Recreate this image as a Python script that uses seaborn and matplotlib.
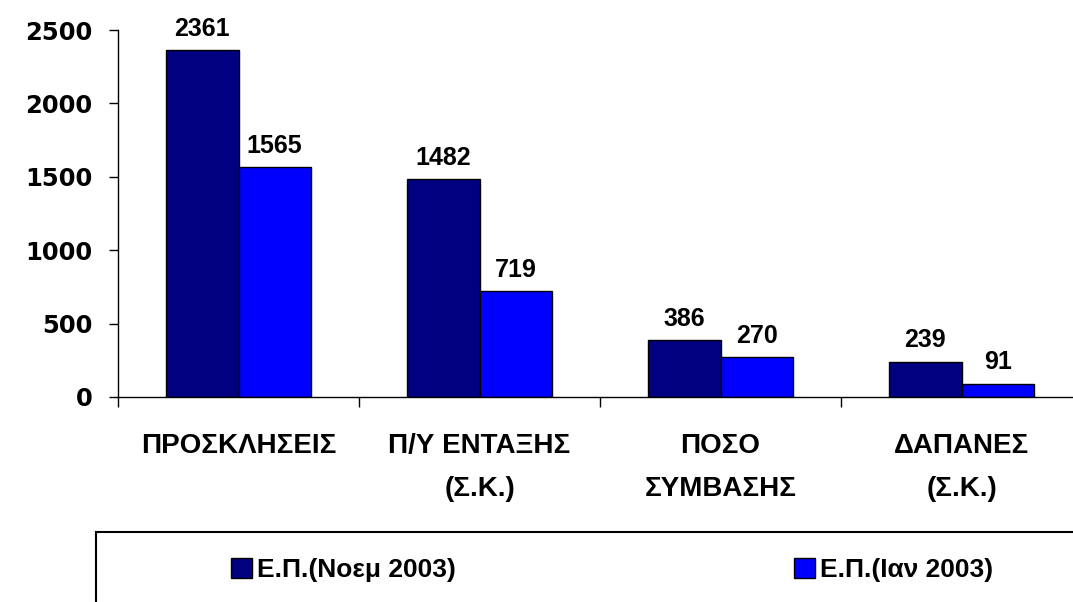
import matplotlib
matplotlib.use("Agg")
import matplotlib.pyplot as plt
from matplotlib.patches import Rectangle
import seaborn as sns
import pandas as pd

# data
categories = ["ΠΡΟΣΚΛΗΣΕΙΣ", "Π/Υ ΕΝΤΑΞΗΣ\n(Σ.Κ.)", "ΠΟΣΟ\nΣΥΜΒΑΣΗΣ", "ΔΑΠΑΝΕΣ\n(Σ.Κ.)"]
series_names = ["Ε.Π.(Νοεμ 2003)", "Ε.Π.(Ιαν 2003)"]
nov_values = [2361, 1482, 386, 239]
jan_values = [1565, 719, 270, 91]
series_colors = ["#000080", "#0000FF"]

df = pd.DataFrame({
    "category": categories * 2,
    "value": nov_values + jan_values,
    "series": [series_names[0]] * len(categories) + [series_names[1]] * len(categories),
})

sns.set_style("white", {"text.color": "black", "xtick.color": "black",
                        "ytick.color": "black", "axes.edgecolor": "black"})
plt.rcParams["font.family"] = ["Liberation Sans", "DejaVu Sans"]

W, H = 1073, 602
fig = plt.figure(figsize=(W / 100, H / 100), dpi=100)
ax = fig.add_axes([118 / W, 1 - 397 / H, 964 / W, 367 / H])

sns.barplot(data=df, x="category", y="value", hue="series",
            palette=dict(zip(series_names, series_colors)), saturation=1,
            width=0.6, edgecolor="black", linewidth=1, errorbar=None, ax=ax)

handles, labels = ax.get_legend_handles_labels()
ax.get_legend().remove()

for cont in ax.containers:
    ax.bar_label(cont, padding=7, fontsize=18, fontweight="bold", color="black")

ax.set_xlim(-0.5, len(categories) - 0.5)
ax.set_ylim(0, 2500)
ax.set_yticks(range(0, 2501, 500))
ax.set_xlabel("")
ax.set_ylabel("")

for s in ["top", "right"]:
    ax.spines[s].set_visible(False)
for s in ["left", "bottom"]:
    ax.spines[s].set_color("black")
    ax.spines[s].set_linewidth(1)

# category labels centred, tick marks on the boundaries
ax.set_xticks(range(len(categories)))
ax.set_xticklabels(categories, fontsize=20, fontweight="bold", linespacing=1.85,
                   color="black")
ax.set_xticks([i - 0.5 for i in range(len(categories) + 1)], minor=True)
ax.tick_params(axis="x", which="major", bottom=True, length=0, pad=26)
ax.tick_params(axis="x", which="minor", bottom=True, length=7, width=1,
               color="black", direction="out")
ax.tick_params(axis="y", left=True, length=6.5, width=1, color="black",
               direction="out", pad=12)
for t in ax.get_yticklabels():
    t.set_fontfamily("DejaVu Sans")
    t.set_fontweight("bold")
    t.set_fontsize(17.5)
    t.set_color("black")

# legend box running off the bottom right corner
fig.patches.append(Rectangle((96 / W, -0.2), 1.2, (H - 532) / H + 0.2,
                             transform=fig.transFigure, fill=False,
                             edgecolor="black", linewidth=1.5))
fig.legend(handles, labels, loc="center left",
           bbox_to_anchor=(231 / W, 1 - 570 / H), ncol=2, frameon=False,
           prop={"size": 19, "weight": "bold"}, handlelength=0.8, handleheight=0.8,
           handletextpad=0.2, columnspacing=12.8, borderpad=0, borderaxespad=0,
           labelcolor="black")

fig.savefig("out.png", dpi=100)
